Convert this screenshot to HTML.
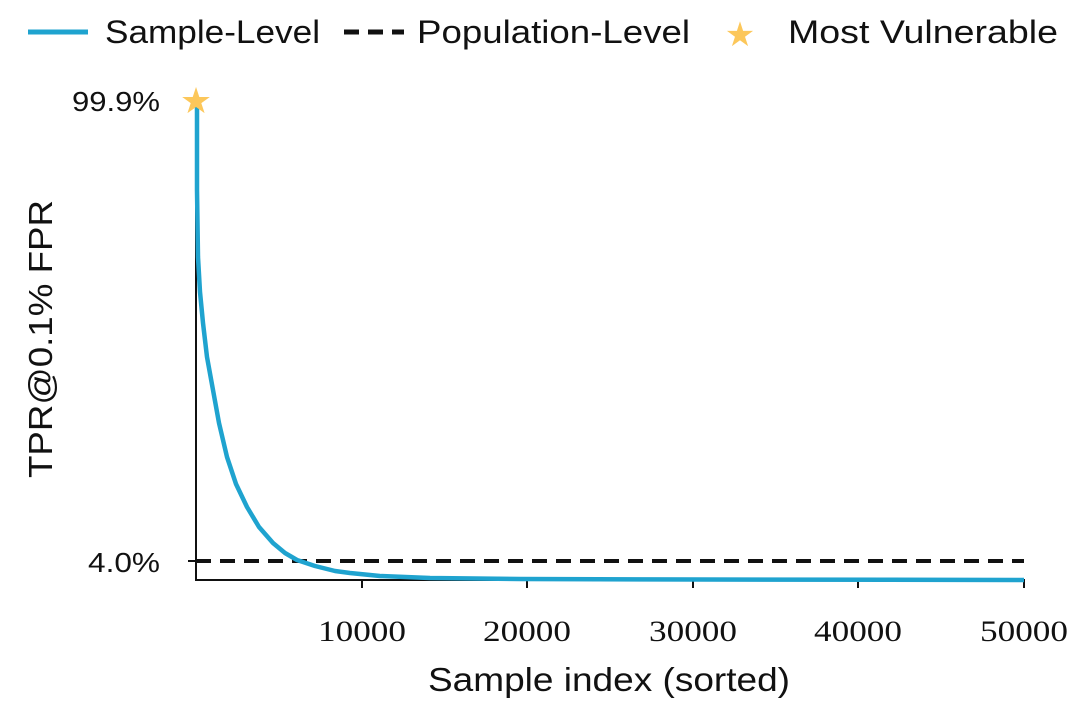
<!DOCTYPE html>
<html><head><style>body{margin:0;background:#fff}</style></head><body>
<svg width="1080" height="708" xmlns="http://www.w3.org/2000/svg">
<rect width="1080" height="708" fill="#fff"/>
<!-- legend -->
<line x1="28" y1="32" x2="88" y2="32" stroke="#1fa3cf" stroke-width="5"/>
<text x="105" y="43" font-family="Liberation Sans, sans-serif" font-size="32" fill="#111" textLength="215" lengthAdjust="spacingAndGlyphs">Sample-Level</text>
<line x1="344" y1="32" x2="404" y2="32" stroke="#111" stroke-width="5" stroke-dasharray="15,9"/>
<text x="417" y="43" font-family="Liberation Sans, sans-serif" font-size="32" fill="#111" textLength="273" lengthAdjust="spacingAndGlyphs">Population-Level</text>
<text x="740" y="46" font-family="DejaVu Sans, sans-serif" font-size="34" fill="#fcc75a" text-anchor="middle">★</text>
<text x="788" y="43" font-family="Liberation Sans, sans-serif" font-size="32" fill="#111" textLength="270" lengthAdjust="spacingAndGlyphs">Most Vulnerable</text>
<!-- axes -->
<line x1="196" y1="96" x2="196" y2="581" stroke="#111" stroke-width="2"/>
<line x1="195" y1="580" x2="1025" y2="580" stroke="#111" stroke-width="2"/>
<line x1="188" y1="100" x2="196" y2="100" stroke="#111" stroke-width="2"/>
<line x1="188" y1="561" x2="196" y2="561" stroke="#111" stroke-width="2"/>
<g stroke="#111" stroke-width="2">
<line x1="362" y1="580" x2="362" y2="588"/><line x1="527" y1="580" x2="527" y2="588"/>
<line x1="693" y1="580" x2="693" y2="588"/><line x1="858" y1="580" x2="858" y2="588"/>
<line x1="1024" y1="580" x2="1024" y2="588"/></g>
<g font-family="Liberation Serif, serif" font-size="30" fill="#111" text-anchor="middle">
<text x="362" y="641" textLength="88" lengthAdjust="spacingAndGlyphs">10000</text>
<text x="527" y="641" textLength="88" lengthAdjust="spacingAndGlyphs">20000</text>
<text x="693" y="641" textLength="88" lengthAdjust="spacingAndGlyphs">30000</text>
<text x="858" y="641" textLength="88" lengthAdjust="spacingAndGlyphs">40000</text>
<text x="1024" y="641" textLength="88" lengthAdjust="spacingAndGlyphs">50000</text></g>
<g font-family="Liberation Sans, sans-serif" font-size="28" fill="#111">
<text x="72" y="111" textLength="88" lengthAdjust="spacingAndGlyphs">99.9%</text>
<text x="88" y="572" textLength="72" lengthAdjust="spacingAndGlyphs">4.0%</text></g>
<text x="428" y="691" font-family="Liberation Sans, sans-serif" font-size="33" fill="#111" textLength="362" lengthAdjust="spacingAndGlyphs">Sample index (sorted)</text>
<text transform="translate(52,478) rotate(-90)" font-family="Liberation Sans, sans-serif" font-size="33" fill="#111" textLength="278" lengthAdjust="spacingAndGlyphs">TPR@0.1% FPR</text>
<!-- population -->
<line x1="196" y1="561" x2="1024" y2="561" stroke="#111" stroke-width="4" stroke-dasharray="15,9"/>
<!-- sample curve -->
<polyline fill="none" stroke="#1fa3cf" stroke-width="4.5" stroke-linejoin="round" points="197,100 197,190 198,257 200,292 203,323 207,357 213,390 219,423 227,457 236,484 247,507 259,527 273,543 285,553 297,560 315,566 335,571 350,573 380,576 430,578 520,579 700,579.5 1024,580"/>
<text x="196" y="113" font-family="DejaVu Sans, sans-serif" font-size="36" fill="#fcc75a" text-anchor="middle">★</text>
</svg>
</body></html>
